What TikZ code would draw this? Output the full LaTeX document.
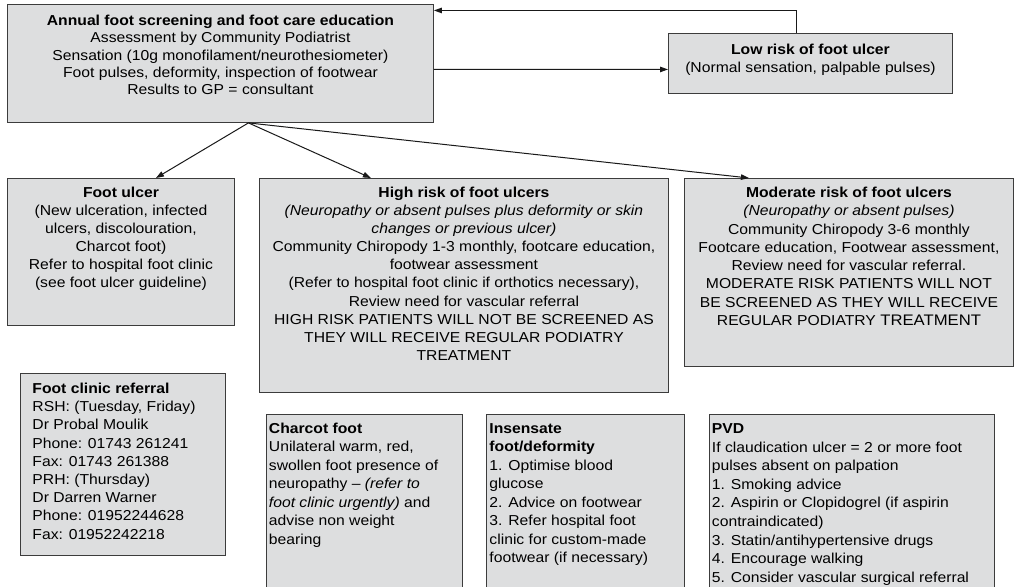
\documentclass[tikz,border=0pt]{standalone}
\usepackage{fontspec}
\setmainfont[FakeStretch=1.09]{Liberation Sans}
\usetikzlibrary{arrows.meta}
\definecolor{boxfill}{RGB}{221,222,223}
\definecolor{boxline}{RGB}{60,60,60}
\definecolor{arrowc}{RGB}{25,25,25}
\newcommand{\boxtext}[6]{\begin{minipage}[t][#2][t]{#1}#3\baselineskip=#5\rule{0pt}{#4}#6\par\end{minipage}}
\begin{document}
\begin{tikzpicture}[x=1bp,y=-1bp,
  font=\fontsize{14.4bp}{18bp}\selectfont,
  fbox/.style={draw=boxline, fill=boxfill, line width=0.9bp, inner ysep=0pt, anchor=north west},
  conn/.style={draw=arrowc, line width=1bp, -{Triangle[length=8bp,width=5.5bp]}}]
\useasboundingbox (0,0) rectangle (1015,587);
\clip (0,0) rectangle (1015,587);
\fill[white] (0,0) rectangle (1015,587);

\node[fbox, inner xsep=3bp] (top) at (7,4)
  {\boxtext{420bp}{118bp}{\centering}{21bp}{17.3bp}{\textbf{Annual foot screening and foot care education}\\
   Assessment by Community Podiatrist\\
   Sensation (10g monofilament/neurothesiometer)\\
   Foot pulses, deformity, inspection of footwear\\
   Results to GP = consultant}};

\node[fbox, inner xsep=3bp] (low) at (668,33)
  {\boxtext{278bp}{60bp}{\centering}{21bp}{18bp}{\textbf{Low risk of foot ulcer}\\
   (Normal sensation, palpable pulses)}};

\node[fbox, inner xsep=3bp] (ulcer) at (7,178)
  {\boxtext{221bp}{147bp}{\centering}{19bp}{18bp}{\textbf{Foot ulcer}\\
   (New ulceration, infected\\
   ulcers, discolouration,\\
   Charcot foot)\\
   Refer to hospital foot clinic\\
   (see foot ulcer guideline)}};

\node[fbox, inner xsep=3bp] (high) at (259,178)
  {\boxtext{403bp}{214bp}{\centering}{19bp}{18.1bp}{\textbf{High risk of foot ulcers}\\
   \textit{(Neuropathy or absent pulses plus deformity or skin}\\
   \textit{changes or previous ulcer)}\\
   Community Chiropody 1-3 monthly, footcare education,\\
   footwear assessment\\
   (Refer to hospital foot clinic if orthotics necessary),\\
   Review need for vascular referral\\
   HIGH RISK PATIENTS WILL NOT BE SCREENED AS\\
   THEY WILL RECEIVE REGULAR PODIATRY\\
   TREATMENT}};

\node[fbox, inner xsep=3bp] (moderate) at (684,178)
  {\boxtext{323bp}{188bp}{\centering}{19bp}{18.3bp}{\textbf{Moderate risk of foot ulcers}\\
   \textit{(Neuropathy or absent pulses)}\\
   Community Chiropody 3-6 monthly\\
   Footcare education, Footwear assessment,\\
   Review need for vascular referral.\\
   MODERATE RISK PATIENTS WILL NOT\\
   BE SCREENED AS THEY WILL RECEIVE\\
   REGULAR PODIATRY {\fontsize{15.3bp}{18bp}\selectfont TREATMENT}}};

\node[fbox, inner xsep=12bp] (clinic) at (20,373)
  {\boxtext{181bp}{182bp}{\raggedright}{20bp}{18.2bp}{\textbf{Foot clinic referral}\\
   RSH: (Tuesday, Friday)\\
   Dr Probal Moulik\\
   Phone: 01743 261241\\
   Fax: 01743 261388\\
   PRH: (Thursday)\\
   Dr Darren Warner\\
   Phone: 01952244628\\
   Fax: 01952242218}};

\node[fbox, inner xsep=2.5bp] (charcot) at (266,414)
  {\boxtext{191bp}{190bp}{\raggedright}{19bp}{18.5bp}{\textbf{Charcot foot}\\
   Unilateral warm, red,\\
   swollen foot presence of\\
   neuropathy -- \textit{(refer to}\\
   \textit{foot clinic urgently)} and\\
   advise non weight\\
   bearing}};

\node[fbox, inner xsep=3bp] (insensate) at (486,414)
  {\boxtext{192bp}{190bp}{\raggedright}{19bp}{18.5bp}{\textbf{Insensate}\\
   \textbf{foot/deformity}\\
   1. Optimise blood\\
   glucose\\
   2. Advice on footwear\\
   3. Refer hospital foot\\
   clinic for custom-made\\
   footwear (if necessary)}};

\node[fbox, inner xsep=2.5bp] (pvd) at (709,414)
  {\boxtext{280bp}{190bp}{\raggedright}{19bp}{18.6bp}{\textbf{PVD}\\
   If claudication ulcer = 2 or more foot\\
   pulses absent on palpation\\
   1. Smoking advice\\
   2. Aspirin or Clopidogrel (if aspirin\\
   contraindicated)\\
   3. Statin/antihypertensive drugs\\
   4. Encourage walking\\
   5. Consider vascular surgical referral}};

\coordinate (split) at ([xshift=28bp]top.south);
\draw[conn] (split) -- ([xshift=35bp]ulcer.north);
\draw[conn] (split) -- ([xshift=-93bp]high.north);
\draw[conn] (split) -- ([xshift=-100bp]moderate.north);
\draw[conn] ([yshift=-6bp]top.east) -- ([yshift=-6bp]low.west);
\draw[conn] ([xshift=-14bp]low.north) |- ([yshift=53bp]top.east);
\end{tikzpicture}
\end{document}
